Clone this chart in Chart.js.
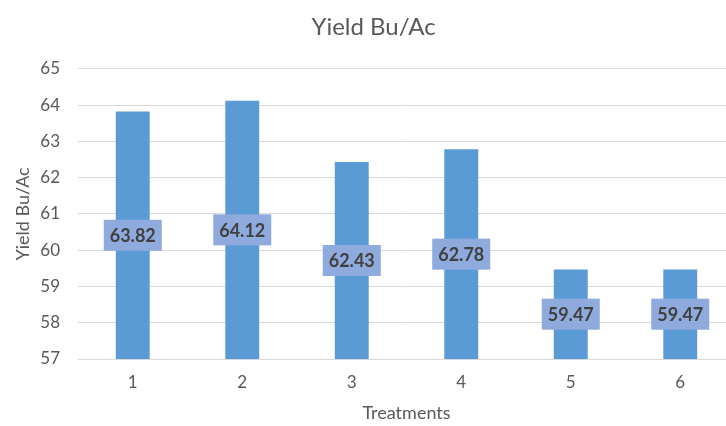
<!DOCTYPE html>
<html>
<head>
<meta charset="utf-8">
<script src="https://cdn.jsdelivr.net/npm/chart.js@4/dist/chart.umd.min.js"></script>
<style>
  html, body { margin: 0; padding: 0; background: #fff; overflow: hidden; }
  #wrap { width: 740px; height: 426px; }
</style>
</head>
<body>
<div id="wrap"><canvas id="c" width="740" height="426"></canvas></div>
<script>
const treatments = ['1', '2', '3', '4', '5', '6'];
const yieldValues = [63.82, 64.12, 62.43, 62.78, 59.47, 59.47];
const chartTitle = 'Yield Bu/Ac';
const xTitle = 'Treatments';
const yTitle = 'Yield Bu/Ac';

const FONT = 'Lato, "Open Sans", sans-serif';

// Boxed value labels centred within each bar
const boxedLabels = {
  id: 'boxedLabels',
  afterDraw(chart) {
    const ctx = chart.ctx;
    const meta = chart.getDatasetMeta(0);
    const yScale = chart.scales.y;
    const basePx = yScale.getPixelForValue(yScale.min);
    ctx.save();
    ctx.font = 'bold 18px ' + FONT;
    ctx.textAlign = 'center';
    ctx.textBaseline = 'middle';
    meta.data.forEach((bar, i) => {
      const txt = yieldValues[i].toFixed(2);
      const topPx = yScale.getPixelForValue(yieldValues[i]);
      const cx = bar.x;
      const cy = (topPx + basePx) / 2;
      const w = 58, h = 31;
      ctx.fillStyle = '#8FAADC';
      ctx.fillRect(cx - w / 2, cy - h / 2, w, h);
      ctx.fillStyle = '#404040';
      ctx.fillText(txt, cx, cy + 1);
    });
    ctx.restore();
  }
};

new Chart(document.getElementById('c'), {
  type: 'bar',
  data: {
    labels: treatments,
    datasets: [{
      data: yieldValues,
      backgroundColor: '#5B9BD5',
      borderWidth: 0,
      categoryPercentage: 1,
      barPercentage: 0.31
    }]
  },
  options: {
    responsive: false,
    animation: false,
    layout: { padding: { left: 12, right: 5, top: 6, bottom: 2 } },
    plugins: {
      legend: { display: false },
      tooltip: { enabled: false },
      title: {
        display: true,
        text: chartTitle,
        color: '#595959',
        font: { family: FONT, size: 24, weight: 'normal' },
        padding: { top: 7, bottom: 27 }
      }
    },
    scales: {
      x: {
        afterFit(scale) { scale.height = 65; },
        grid: { display: false, drawTicks: false },
        border: { display: true, color: '#D9D9D9' },
        ticks: { color: '#595959', font: { family: FONT, size: 17 }, padding: 13 },
        title: {
          display: true, text: xTitle, color: '#595959',
          font: { family: FONT, size: 18 }, padding: { top: 10, bottom: 0 }
        }
      },
      y: {
        min: 57, max: 65,
        afterFit(scale) { scale.width = 66; },
        grid: { color: '#D9D9D9', lineWidth: 1, drawTicks: false },
        border: { display: false },
        ticks: { stepSize: 1, color: '#595959', font: { family: FONT, size: 17 }, padding: 18 },
        title: {
          display: true, text: yTitle, color: '#595959',
          font: { family: FONT, size: 18 }, padding: { top: 0, bottom: 0 }
        }
      }
    }
  },
  plugins: [boxedLabels]
});
</script>
</body>
</html>
